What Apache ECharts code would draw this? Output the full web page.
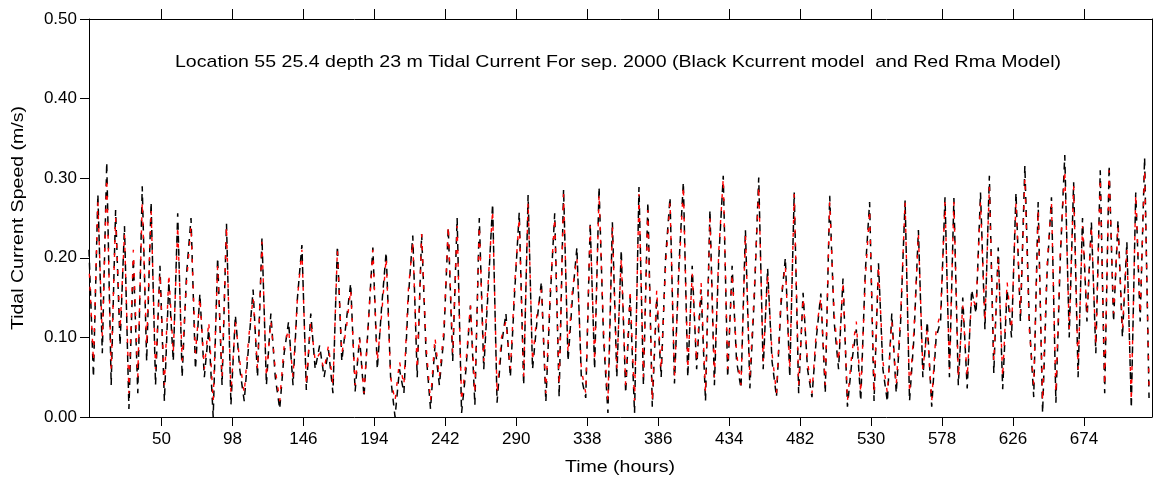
<!DOCTYPE html>
<html>
<head>
<meta charset="utf-8">
<title>Tidal Current</title>
<script src="https://cdn.jsdelivr.net/npm/echarts/dist/echarts.min.js"></script>
<style>
  html, body { margin: 0; padding: 0; background: #fff; }
  #chart { width: 1153px; height: 479px; }
</style>
</head>
<body>
<div id="chart"></div>
<script>
// sampled every 3 hours starting at hour 1
const startHour = 1
const stepHours = 3

const xTickLabels = [50, 98, 146, 194, 242, 290, 338, 386, 434, 482, 530, 578, 626, 674]

// Black: Kcurrent model
const kcurrent = [
  0.21,0.05,0.28,0.08,0.32,0.04,0.26,0.09,
  0.24,0.01,0.20,0.03,0.29,0.07,0.27,0.04,
  0.19,0.02,0.17,0.07,0.256,0.05,0.18,0.25,
  0.06,0.155,0.05,0.11,0.00,0.20,0.04,0.243,
  0.015,0.128,0.06,0.02,0.09,0.16,0.05,0.225,
  0.04,0.13,0.05,0.01,0.08,0.12,0.04,0.15,
  0.216,0.034,0.13,0.06,0.09,0.05,0.084,0.03,
  0.215,0.07,0.12,0.168,0.032,0.10,0.025,0.12,
  0.213,0.06,0.14,0.207,0.05,0.00,0.06,0.03,
  0.15,0.228,0.05,0.23,0.08,0.01,0.09,0.04,
  0.10,0.238,0.07,0.25,0.005,0.06,0.14,0.015,
  0.25,0.06,0.16,0.268,0.018,0.09,0.13,0.05,
  0.16,0.257,0.04,0.279,0.06,0.12,0.17,0.019,
  0.15,0.256,0.025,0.286,0.07,0.15,0.213,0.05,
  0.024,0.243,0.06,0.289,0.10,0.005,0.245,0.05,
  0.21,0.03,0.15,0.005,0.289,0.04,0.27,0.013,
  0.15,0.05,0.20,0.276,0.042,0.19,0.295,0.05,
  0.19,0.06,0.16,0.02,0.26,0.04,0.20,0.303,
  0.05,0.19,0.07,0.036,0.235,0.036,0.15,0.301,
  0.06,0.187,0.07,0.025,0.14,0.20,0.05,0.282,
  0.03,0.156,0.06,0.025,0.10,0.155,0.03,0.278,
  0.12,0.06,0.174,0.013,0.07,0.11,0.02,0.18,
  0.27,0.02,0.193,0.06,0.019,0.13,0.03,0.12,
  0.272,0.02,0.10,0.235,0.05,0.12,0.013,0.10,
  0.12,0.276,0.05,0.275,0.04,0.15,0.036,0.16,
  0.13,0.282,0.11,0.303,0.055,0.213,0.035,0.16,
  0.10,0.282,0.12,0.316,0.12,0.025,0.27,0.005,
  0.18,0.276,0.018,0.20,0.329,0.10,0.295,0.05,
  0.25,0.12,0.245,0.08,0.31,0.03,0.316,0.12,
  0.247,0.10,0.22,0.011,0.282,0.12,0.326,0.024
]

// Red: Rma model
const rma = [
  0.19,0.07,0.27,0.10,0.30,0.06,0.25,0.11,
  0.23,0.03,0.21,0.05,0.27,0.09,0.26,0.06,
  0.18,0.04,0.18,0.08,0.24,0.07,0.17,0.24,
  0.08,0.15,0.06,0.12,0.02,0.19,0.05,0.24,
  0.03,0.12,0.07,0.03,0.10,0.15,0.06,0.22,
  0.05,0.12,0.06,0.02,0.09,0.11,0.05,0.15,
  0.21,0.04,0.12,0.07,0.08,0.06,0.09,0.04,
  0.21,0.08,0.11,0.16,0.04,0.10,0.03,0.12,
  0.21,0.07,0.13,0.20,0.05,0.02,0.07,0.04,
  0.16,0.22,0.06,0.23,0.09,0.02,0.10,0.05,
  0.11,0.24,0.08,0.24,0.02,0.07,0.14,0.03,
  0.24,0.07,0.17,0.26,0.03,0.10,0.12,0.06,
  0.17,0.25,0.05,0.27,0.07,0.13,0.16,0.03,
  0.16,0.25,0.04,0.28,0.08,0.16,0.20,0.06,
  0.03,0.24,0.07,0.28,0.11,0.02,0.24,0.06,
  0.20,0.04,0.16,0.02,0.28,0.05,0.26,0.02,
  0.16,0.06,0.19,0.27,0.05,0.18,0.29,0.06,
  0.18,0.07,0.17,0.03,0.25,0.05,0.21,0.30,
  0.06,0.18,0.08,0.04,0.23,0.05,0.16,0.29,
  0.07,0.18,0.08,0.03,0.15,0.19,0.06,0.28,
  0.04,0.15,0.07,0.03,0.11,0.15,0.04,0.27,
  0.13,0.07,0.17,0.02,0.08,0.12,0.03,0.17,
  0.26,0.03,0.19,0.07,0.03,0.12,0.04,0.13,
  0.27,0.03,0.11,0.23,0.06,0.11,0.02,0.11,
  0.13,0.27,0.06,0.27,0.05,0.14,0.05,0.15,
  0.14,0.27,0.12,0.29,0.07,0.20,0.05,0.17,
  0.11,0.27,0.13,0.30,0.11,0.04,0.26,0.02,
  0.19,0.27,0.03,0.21,0.31,0.11,0.29,0.06,
  0.24,0.13,0.24,0.09,0.30,0.04,0.31,0.13,
  0.24,0.11,0.21,0.02,0.28,0.13,0.31,0.04
]

const titleText = 'Location 55 25.4 depth 23 m Tidal Current For sep. 2000 (Black Kcurrent model  and Red Rma Model)'
const xName = 'Time (hours)'
const yName = 'Tidal Current Speed (m/s)'
const fontFamily = '"Liberation Sans", Arial, sans-serif'
const textStretch = 1.15   // the source font is a bit wider than Arial

function pairs(vals) {
  return vals.map(function (v, i) { return [startHour + i * stepHours, v] })
}

const axisLine = { show: true, onZero: false, lineStyle: { color: '#000', width: 1 } }

let option = {
  animation: false,
  backgroundColor: '#fff',
  grid: { left: 89, right: 1, top: 19, bottom: 62, containLabel: false },
  graphic: [
    {
      type: 'text', x: 175, y: 62, scaleX: textStretch,
      style: { text: titleText, font: '17px ' + fontFamily, fill: '#000', textVerticalAlign: 'middle' }
    },
    {
      type: 'text', x: 620, y: 467, scaleX: textStretch,
      style: { text: xName, font: '17px ' + fontFamily, fill: '#000', textAlign: 'center', textVerticalAlign: 'middle' }
    },
    {
      type: 'text', x: 18, y: 218, rotation: Math.PI / 2, scaleX: textStretch,
      style: { text: yName, font: '17px ' + fontFamily, fill: '#000', textAlign: 'center', textVerticalAlign: 'middle' }
    }
  ],
  xAxis: [
    {
      type: 'value',
      position: 'bottom',
      min: 1,
      max: 720,
      axisLine: axisLine,
      axisTick: { show: true, inside: false, length: 9, customValues: xTickLabels, lineStyle: { color: '#000' } },
      axisLabel: { show: true, margin: 14, fontSize: 17, color: '#000', fontFamily: fontFamily, customValues: xTickLabels },
      splitLine: { show: false }
    },
    {
      type: 'value',
      position: 'top',
      min: 1,
      max: 720,
      axisLine: axisLine,
      axisTick: { show: true, inside: false, length: 10, customValues: xTickLabels, lineStyle: { color: '#000' } },
      axisLabel: { show: false },
      splitLine: { show: false }
    }
  ],
  yAxis: [
    {
      type: 'value',
      position: 'left',
      min: 0,
      max: 0.5,
      interval: 0.1,
      axisLine: axisLine,
      axisTick: { show: true, inside: false, length: 9, lineStyle: { color: '#000' } },
      axisLabel: {
        margin: 12, fontSize: 17, color: '#000', fontFamily: fontFamily,
        formatter: function (v) { return v.toFixed(2) }
      },
      splitLine: { show: false }
    },
    {
      type: 'value',
      position: 'right',
      min: 0,
      max: 0.5,
      axisLine: axisLine,
      axisTick: { show: false },
      axisLabel: { show: false },
      splitLine: { show: false }
    }
  ],
  series: [
    {
      name: 'Kcurrent',
      type: 'line',
      data: pairs(kcurrent),
      showSymbol: false,
      symbol: 'none',
      lineStyle: { color: '#000', width: 1.5, type: [7, 6] }
    },
    {
      name: 'Rma',
      type: 'line',
      data: pairs(rma),
      showSymbol: false,
      symbol: 'none',
      // short red dashes that land in the gaps of the black ones
      lineStyle: { color: '#ff0000', width: 1.4, type: [4, 9], dashOffset: 5 }
    }
  ]
}

const chart = echarts.init(document.getElementById('chart'))
chart.setOption(option)
window.onresize = function () { chart.resize() }
</script>
</body>
</html>
